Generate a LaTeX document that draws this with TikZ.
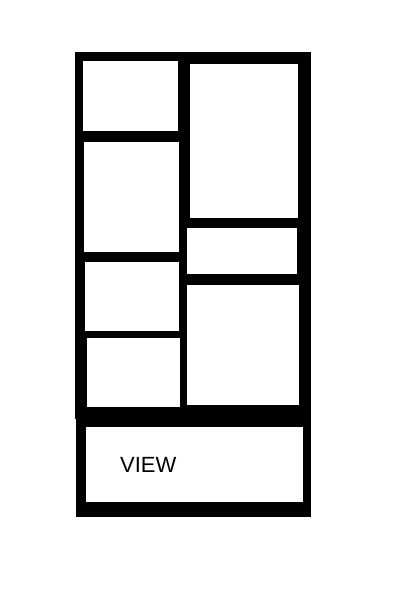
\documentclass[tikz,border=0pt]{standalone}
\usepackage{fontspec}
\setmainfont{Liberation Sans}
\begin{document}
\begin{tikzpicture}[x=1pt,y=-1pt, cell/.style={fill=white}]
        \useasboundingbox (0,0) rectangle (400,600);
        % frame
        \fill (75,52) rectangle (311,419);
        \fill (76,419) rectangle (311,517);
        % left column
        \fill[cell] (83,61) rectangle (178,131);
        \fill[cell] (84,142) rectangle (179,252);
        \fill[cell] (85,262) rectangle (179,331);
        \fill[cell] (87,338) rectangle (180,407);
        % right column
        \fill[cell] (190,64) rectangle (298,218);
        \fill[cell] (187,228) rectangle (297,274);
        \fill[cell] (187,285) rectangle (299,405);
        % view
        \fill[cell] (86,427) rectangle (303,502);
        \node[font=\fontsize{22}{26}\selectfont, anchor=west, inner sep=0pt] (view) at (120,465) {VIEW};
    \end{tikzpicture}
\end{document}
